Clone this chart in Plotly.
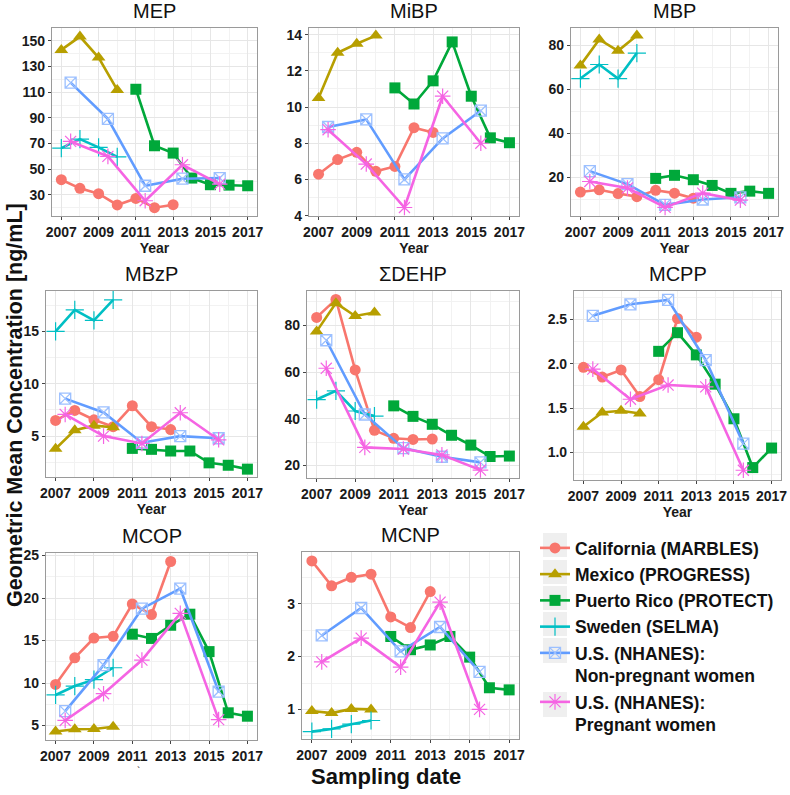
import plotly.graph_objects as go

# years sampled by each cohort
years_cal = [2007, 2008, 2009, 2010, 2011, 2012, 2013]
years_mex = [2007, 2008, 2009, 2010]
years_pr = [2011, 2012, 2013, 2014, 2015, 2016, 2017]
years_swe = [2007, 2008, 2009, 2010]
years_nh = [2007.5, 2009.5, 2011.5, 2013.5, 2015.5]

# geometric means (ng/mL) per metabolite
mep = dict(cal=[41.7, 35.0, 30.8, 22.0, 27.1, 19.9, 22.2],
           mex=[143, 153.4, 137, 111.8],
           pr=[112.3, 68.2, 62.5, 43, 37.8, 37.5, 37],
           swe=[66.4, 73.4, 67, 59.5],
           nhnp=[117.5, 89.2, 37, 42.5, 43],
           nhp=[71.6, 59.9, 25.3, 53.4, 38.3])
mibp = dict(cal=[6.29, 7.1, 7.5, 6.45, 6.72, 8.86, 8.6],
            mex=[10.5, 13.0, 13.5, 13.95],
            pr=[11.06, 10.17, 11.45, 13.6, 10.6, 8.3, 8.03],
            swe=None,
            nhnp=[8.9, 9.32, 6.0, 8.27, 9.8],
            nhp=[8.75, 6.85, 4.45, 10.6, 8.0])
mbp = dict(cal=[13.2, 14.2, 12.5, 11.1, 14.0, 12.7, 10.4],
           mex=[70.8, 82.6, 77.4, 84.4],
           pr=[19.4, 20.8, 18.8, 16.2, 12.6, 13.6, 12.6],
           swe=[64.8, 71.2, 64.8, 76.4],
           nhnp=[22.7, 16.8, 7.4, 9.8, 10.8],
           nhp=[18.0, 15.0, 6.2, 12.7, 9.5])
mbzp = dict(cal=[6.5, 7.45, 6.56, 5.9, 7.9, 5.9, 5.63],
            mex=[3.8, 5.57, 6.0, 5.85],
            pr=[3.83, 3.74, 3.58, 3.58, 2.45, 2.22, 1.85],
            swe=[15.0, 17.05, 16.04, 18.0],
            nhnp=[8.58, 7.26, 4.37, 5.0, 4.8],
            nhp=[7.07, 5.0, 4.3, 7.23, 4.65])
dehp = dict(cal=[83.4, 91.1, 60.9, 35.0, 31.6, 31.1, 31.3],
            mex=[77.4, 89.5, 84.0, 85.5],
            pr=[45.5, 41.0, 37.6, 32.9, 28.7, 23.8, 24.0],
            swe=[48.2, 51.9, 43.3, 41.1],
            nhnp=[73.6, 41.8, 27.4, 23.7, 21.3],
            nhp=[61.6, 27.7, 27.0, 24.5, 18.0])
mcpp = dict(cal=[1.96, 1.85, 1.93, 1.63, 1.82, 2.51, 2.30],
            mex=[1.29, 1.45, 1.47, 1.44],
            pr=[2.14, 2.35, 2.10, 1.77, 1.38, 0.83, 1.05],
            swe=None,
            nhnp=[2.54, 2.67, 2.72, 2.04, 1.10],
            nhp=[1.94, 1.60, 1.76, 1.74, 0.80])
mcop = dict(cal=[9.84, 12.97, 15.3, 15.5, 19.3, 18.06, 24.3],
            mex=[4.3, 4.57, 4.6, 4.85],
            pr=[15.75, 15.25, 16.8, 18.1, 13.7, 6.5, 6.1],
            swe=[8.6, 9.65, 10.4, 11.8],
            nhnp=[6.7, 12.1, 18.75, 21.1, 9.0],
            nhp=[5.6, 8.75, 12.7, 18.2, 5.7])
mcnp = dict(cal=[3.81, 3.34, 3.5, 3.56, 2.75, 2.55, 3.23],
            mex=[0.97, 0.93, 1.01, 1.0],
            pr=[2.38, 2.13, 2.22, 2.38, 1.99, 1.41, 1.37],
            swe=[0.58, 0.63, 0.72, 0.79],
            nhnp=[2.4, 2.92, 2.1, 2.56, 1.71],
            nhp=[1.9, 2.35, 1.8, 3.03, 1.0])

titulos = ["MEP", "MiBP", "MBP", "MBzP", "ΣDEHP", "MCPP", "MCOP", "MCNP"]
dados = [mep, mibp, mbp, mbzp, dehp, mcpp, mcop, mcnp]

# y-axis setup per panel: range, tick start, tick step
y_ranges = [[13.4, 160.1], [3.98, 14.37], [2.3, 87.8], [1.1, 18.85],
            [14.6, 94.7], [0.69, 2.82], [3.3, 25.3], [0.44, 3.98]]
y_tick0 = [30, 4, 0, 0, 0, 0, 0, 0]
y_dtick = [20, 2, 20, 5, 20, 0.5, 5, 1]

# panel boxes in pixels (left, right, top, bottom)
caixas = [(52, 257, 28, 216), (309, 519, 28, 216), (571, 778, 28, 216),
          (46, 257, 291, 477), (307, 519, 291, 478), (574, 781, 291, 480),
          (46, 257, 553, 740), (302, 519, 552, 739)]

W, H = 790, 795

coortes = [
    ("cal", "California (MARBLES)", years_cal, "#F8766D", "circle", 11),
    ("mex", "Mexico (PROGRESS)", years_mex, "#B79F00", "triangle-up", 12),
    ("pr", "Puerto Rico (PROTECT)", years_pr, "#00A83A", "square", 11),
    ("swe", "Sweden (SELMA)", years_swe, "#00BFC4", "cross-thin-open", 13),
    ("nhnp", "U.S. (NHANES):<br>Non-pregnant women", years_nh, "#619CFF", "square-x-open", 11),
    ("nhp", "U.S. (NHANES):<br>Pregnant women", years_nh, "#F564E3", "asterisk-open", 13),
]

fig = go.Figure()
font = "Liberation Sans, Arial, sans-serif"

for i, (titulo, d) in enumerate(zip(titulos, dados)):
    n = i + 1
    for chave, nome, anos, cor, simbolo, tam in coortes:
        vals = d[chave]
        if vals is None:
            continue
        if chave == "swe":
            marker = dict(symbol=simbolo, size=tam, color=cor,
                          line=dict(color=cor, width=1.2))
        elif chave == "nhnp":
            marker = dict(symbol=simbolo, size=tam, color="#9cc0ff",
                          line=dict(color="#8fb5ff", width=1.3))
        elif chave == "nhp":
            marker = dict(symbol=simbolo, size=tam, color=cor,
                          line=dict(color="#f38ae8", width=1.2))
        else:
            marker = dict(symbol=simbolo, size=tam, color=cor)
        fig.add_trace(go.Scatter(
            x=anos, y=vals, mode="lines+markers", name=nome,
            line=dict(color=cor, width=2.6), marker=marker,
            legendgroup=chave, showlegend=(n == 1),
            xaxis=f"x{n}", yaxis=f"y{n}"))

    l, r, t, b = caixas[i]
    sufixo = "" if n == 1 else str(n)
    eixo_x = dict(domain=[l / W, r / W], anchor=f"y{n}", range=[2006.5, 2017.5],
                  tickvals=[2007, 2009, 2011, 2013, 2015, 2017], automargin=False,
                  showgrid=True, gridcolor="#E6E6E6", gridwidth=1,
                  minor=dict(dtick=1, tick0=2007, showgrid=True, gridcolor="#F2F2F2", gridwidth=0.6),
                  showline=True, mirror=True, linecolor="#9A9A9A", linewidth=1.2,
                  ticks="outside", ticklen=3, tickcolor="#444", zeroline=False,
                  tickfont=dict(family=font, size=14, color="#1a1a1a", weight="bold"))
    if n <= 6:
        eixo_x["title"] = dict(text="Year", standoff=1,
                               font=dict(family=font, size=14, color="#1a1a1a", weight="bold"))
    eixo_y = dict(domain=[1 - b / H, 1 - t / H], anchor=f"x{n}", range=y_ranges[i],
                  tick0=y_tick0[i], dtick=y_dtick[i], automargin=False,
                  showgrid=True, gridcolor="#E6E6E6", gridwidth=1,
                  minor=dict(dtick=y_dtick[i] / 2, showgrid=True, gridcolor="#F2F2F2", gridwidth=0.6),
                  showline=True, mirror=True, linecolor="#9A9A9A", linewidth=1.2,
                  ticks="outside", ticklen=3, tickcolor="#444", zeroline=False,
                  tickformat=".1f" if n == 6 else "",
                  tickfont=dict(family=font, size=14, color="#1a1a1a", weight="bold"))
    fig.layout["xaxis" + sufixo] = eixo_x
    fig.layout["yaxis" + sufixo] = eixo_y

    fig.add_annotation(text=titulo, x=(l + r) / 2 / W, y=1 - (t - 4) / H,
                       xref="paper", yref="paper", xanchor="center", yanchor="bottom",
                       showarrow=False, font=dict(family=font, size=20, color="#111"))

# titulos gerais
fig.add_annotation(text="Geometric Mean Concentration [ng/mL]", x=15 / W, y=1 - 405 / H,
                   xref="paper", yref="paper", xanchor="center", yanchor="middle",
                   textangle=-90, showarrow=False,
                   font=dict(family=font, size=21.5, color="#111", weight="bold"))
fig.add_annotation(text="Sampling date", x=386 / W, y=1 - 776 / H,
                   xref="paper", yref="paper", xanchor="center", yanchor="middle",
                   showarrow=False,
                   font=dict(family=font, size=22, color="#111", weight="bold"))
fig.add_annotation(text="`", x=138 / W, y=1 - 771 / H, xref="paper", yref="paper",
                   xanchor="center", yanchor="middle",
                   showarrow=False, font=dict(family=font, size=10, color="#111"))

# caixas cinzentas atras das chaves da legenda (estilo ggplot)
for topo, base in [(533, 557), (560, 584), (586, 610), (612, 636), (638, 663), (692, 717)]:
    fig.add_shape(type="rect", xref="paper", yref="paper",
                  x0=543 / W, x1=567 / W, y0=1 - base / H, y1=1 - topo / H,
                  fillcolor="#EFEFEF", line=dict(width=0), layer="below")

fig.update_layout(
    width=W, height=H, margin=dict(l=0, r=0, t=0, b=0),
    plot_bgcolor="white", paper_bgcolor="white",
    legend=dict(x=535 / W, y=1 - 530 / H, xanchor="left", yanchor="top",
                valign="top", itemwidth=30, tracegroupgap=0.5,
                font=dict(family=font, size=17.5, color="#111", weight="bold"),
                bgcolor="rgba(0,0,0,0)"),
)

fig.write_html("out.html", config={"displayModeBar": False},
               post_script="document.body.style.margin='0';")
